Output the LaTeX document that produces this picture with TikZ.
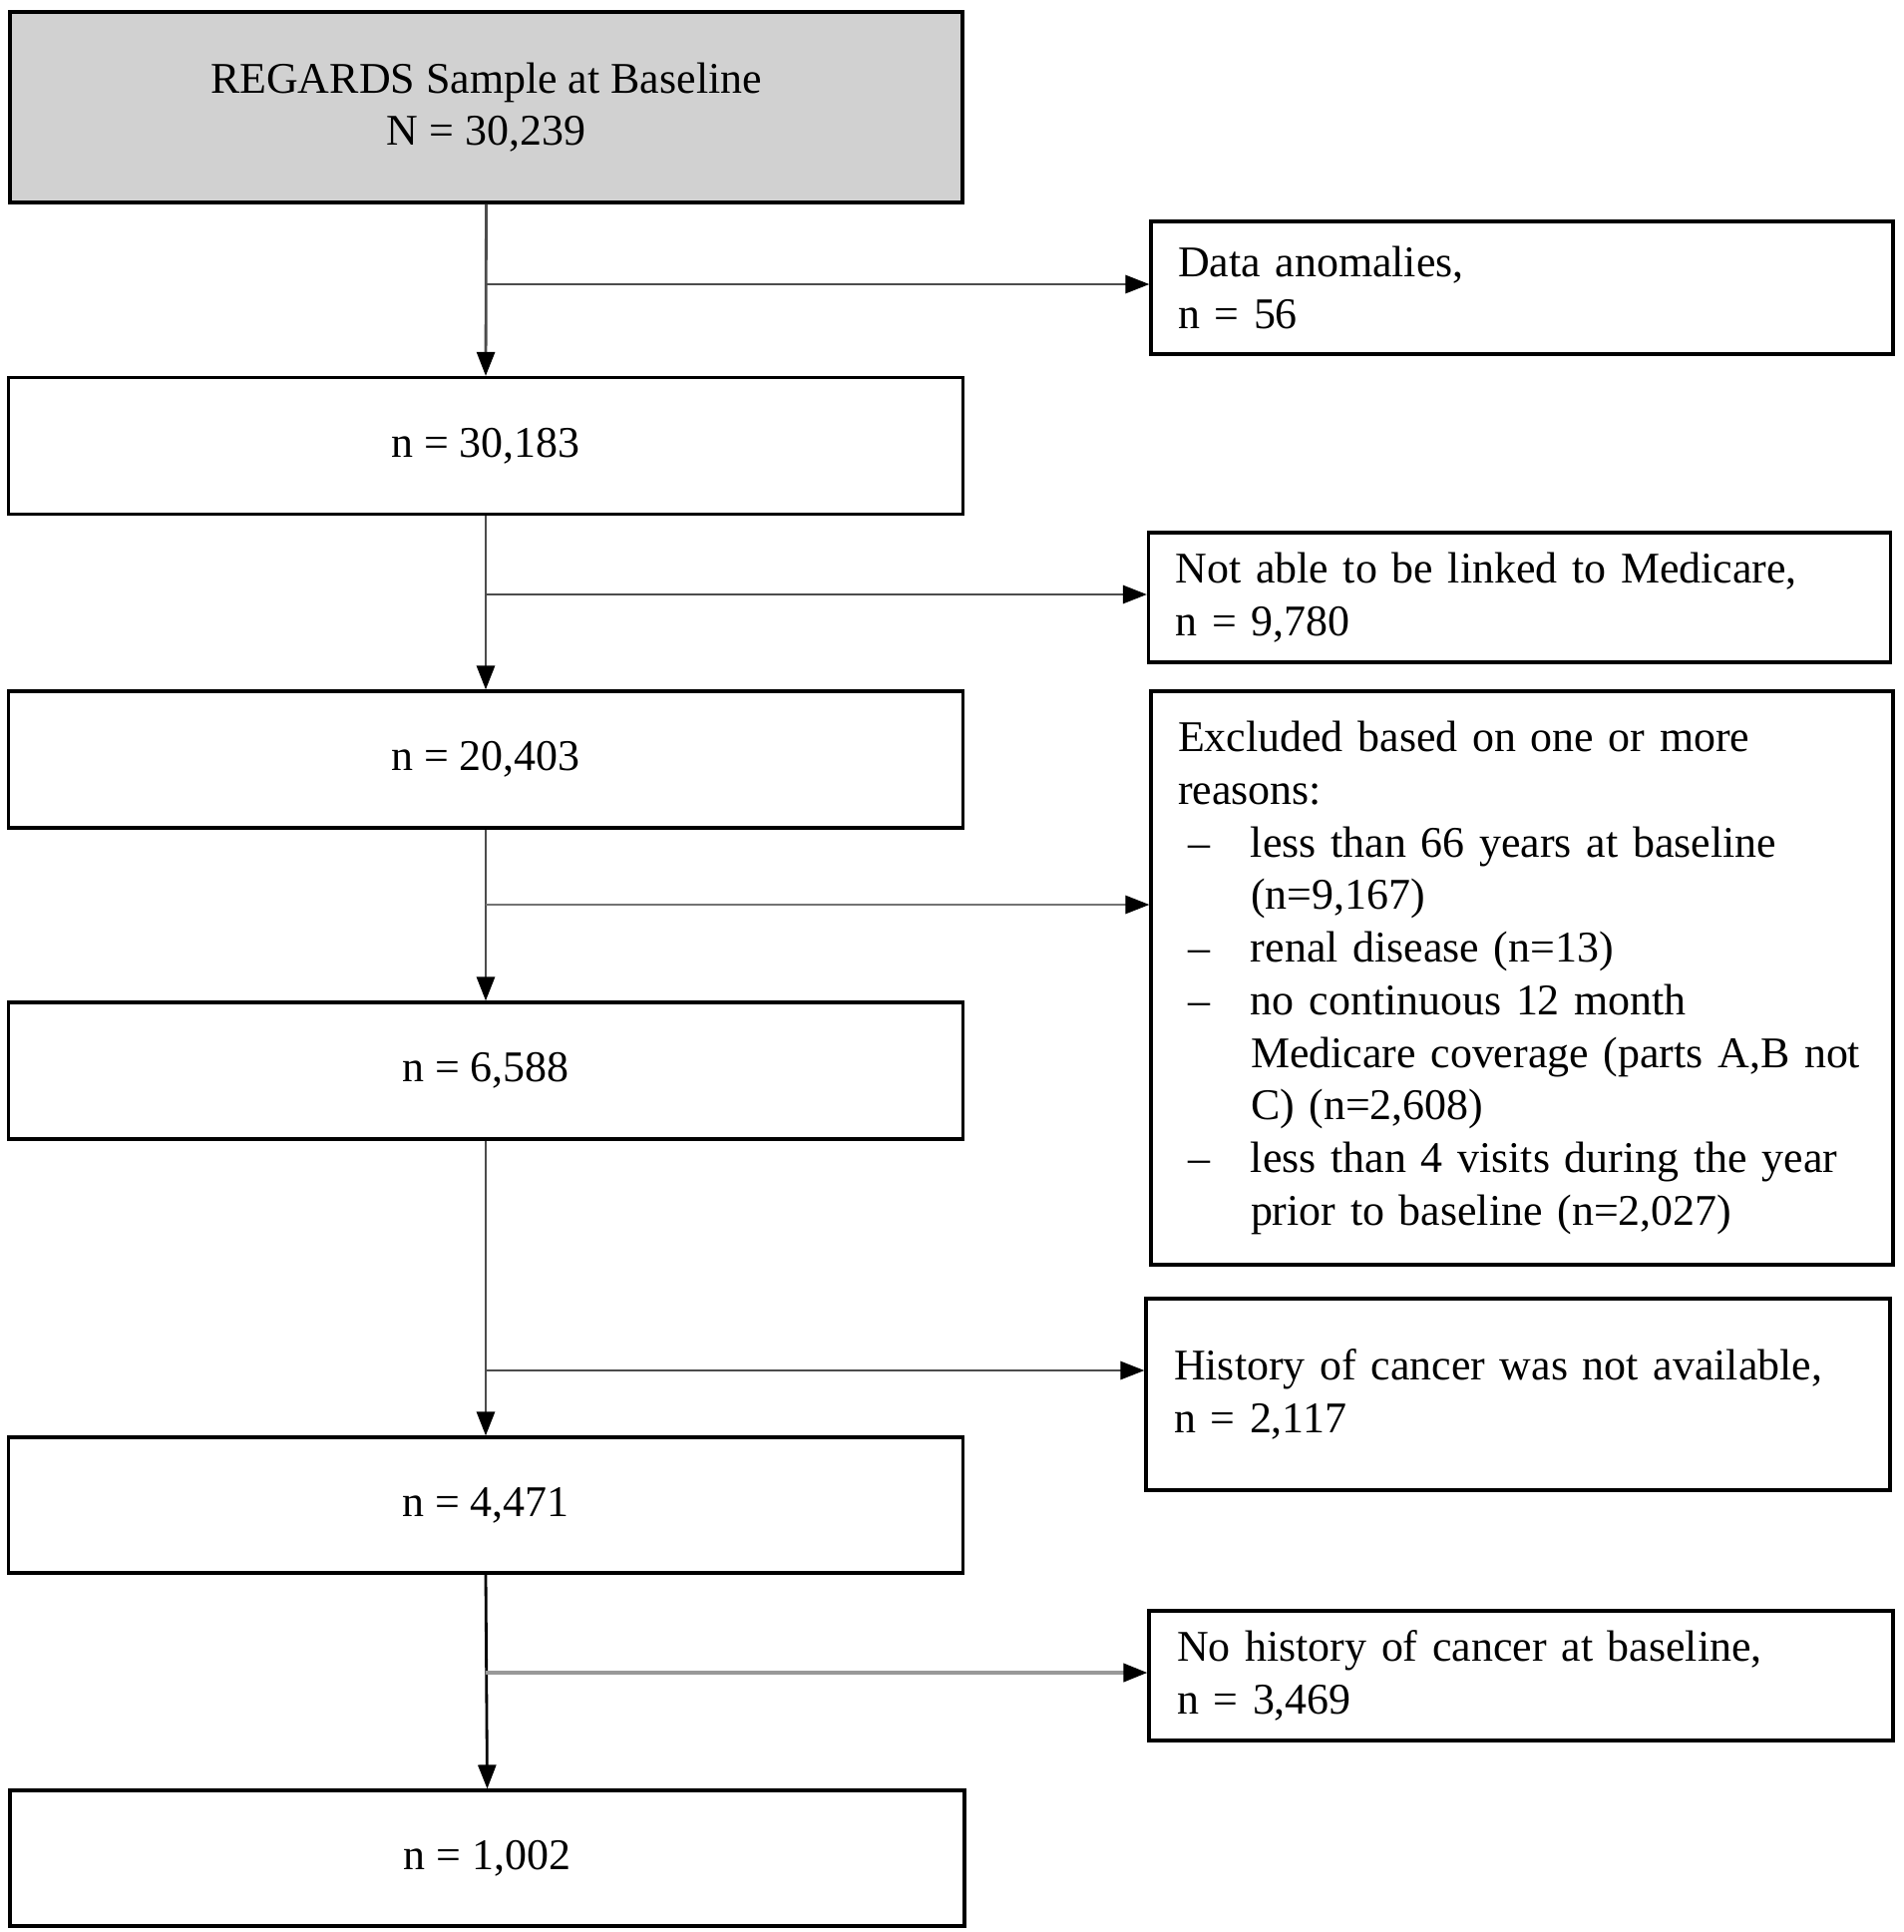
\documentclass[tikz,border=0pt]{standalone}
\usepackage{fontspec}
\setmainfont{Liberation Serif}
\usepackage{tikz}
\usetikzlibrary{arrows.meta,positioning,calc}

\begin{document}
\begin{tikzpicture}[
		>={Triangle[length=0.24cm,width=0.18cm,color=black]},
		font=\fontsize{12.5}{15}\selectfont,
		mainbox/.style={draw,line width=0.9pt,minimum width=9.57cm,minimum height=1.37cm,align=center,inner sep=0pt},
		exbox/.style={draw,line width=0.9pt,minimum width=7.44cm,text width=6.9cm,inner xsep=0.27cm,align=left},
		flow/.style={->,draw=black!70,line width=0.8pt}
	]
	\useasboundingbox (0,0) rectangle (19.09,-19.37);
	% left column
	\node[mainbox,fill=black!18,minimum width=9.55cm,minimum height=1.91cm] (top) at (4.875,-1.075) {REGARDS Sample at Baseline\\N = 30,239};
	\node[mainbox] (n1) at (4.87,-4.47) {n = 30,183};
	\node[mainbox] (n2) at (4.87,-7.615) {n = 20,403};
	\node[mainbox] (n3) at (4.87,-10.735) {n = 6,588};
	\node[mainbox,minimum height=1.36cm] (n4) at (4.87,-15.09) {n = 4,471};
	\node[mainbox,minimum height=1.36cm] (n5) at (4.885,-18.63) {n = 1,002};
	% exclusions
	\node[exbox,minimum height=1.33cm] (ex1) at (15.26,-2.885) {Data anomalies,\\n = 56};
	\node[exbox,minimum height=1.30cm,minimum width=7.43cm] (ex2) at (15.235,-5.99) {Not able to be linked to Medicare,\\n = 9,780};
	\node[exbox,minimum height=5.75cm] (ex3) at (15.26,-9.805) {Excluded based on one or more\\reasons:\\
		\makebox[0.73cm][l]{\hspace{0.1cm}–}less than 66 years at baseline\\
		\hspace*{0.73cm}(n=9,167)\\
		\makebox[0.73cm][l]{\hspace{0.1cm}–}renal disease (n=13)\\
		\makebox[0.73cm][l]{\hspace{0.1cm}–}no continuous 12 month\\
		\hspace*{0.73cm}Medicare coverage (parts A,B not\\
		\hspace*{0.73cm}C) (n=2,608)\\
		\makebox[0.73cm][l]{\hspace{0.1cm}–}less than 4 visits during the year\\
		\hspace*{0.73cm}prior to baseline (n=2,027)};
	\node[exbox,minimum height=1.92cm,minimum width=7.46cm] (ex4) at (15.22,-13.98) {History of cancer was not available,\\n = 2,117};
	\node[exbox,minimum height=1.30cm,minimum width=7.46cm] (ex5) at (15.25,-16.80) {No history of cancer at baseline,\\n = 3,469};
	% branch points
	\coordinate (j1) at (4.87,-2.85);
	\coordinate (j2) at (4.87,-5.96);
	\coordinate (j3) at (4.87,-9.07);
	\coordinate (j4) at (4.87,-13.74);
	\coordinate (j5) at (4.87,-16.77);
	% connectors
	\draw[flow] (top.south) -- (n1.north);
	\draw[flow] (n1.south) -- (n2.north);
	\draw[flow] (n2.south) -- (n3.north);
	\draw[flow] (n3.south) -- (n4.north);
	\draw[flow,draw=black] (n4.south) -- (n5.north);
	\draw[flow] (j1) -- (j1 -| ex1.west);
	\draw[flow] (j2) -- (j2 -| ex2.west);
	\draw[flow,draw=black!55] (j3) -- (j3 -| ex3.west);
	\draw[flow] (j4) -- (j4 -| ex4.west);
	\draw[flow,draw=black!40,line width=1.1pt] (j5) -- (j5 -| ex5.west);
\end{tikzpicture}
\end{document}
